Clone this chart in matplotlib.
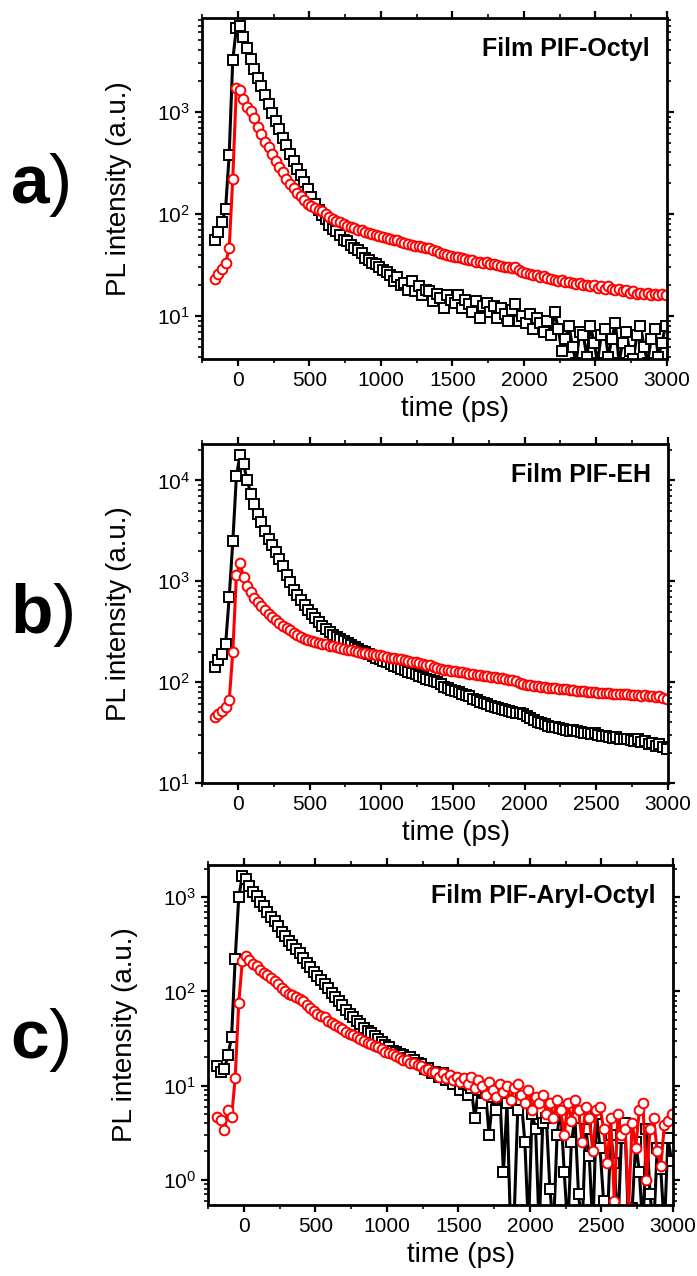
import numpy as np
import matplotlib
matplotlib.use("Agg")
import matplotlib.pyplot as plt
from matplotlib.ticker import MultipleLocator

plt.rcParams['font.family'] = ['Liberation Sans', 'DejaVu Sans']
plt.rcParams['mathtext.fontset'] = 'custom'
plt.rcParams['mathtext.rm'] = 'Liberation Sans'
plt.rcParams['mathtext.bf'] = 'Liberation Sans:bold'
plt.rcParams['mathtext.default'] = 'regular'

# time grids (ps)
t_ab = np.arange(-160, 3000, 25)
t_c = np.arange(-185, 3000, 25)

# a) Film PIF-Octyl
a_black = [55, 66, 83, 112, 380, 3200, 6600, 6900, 5400, 4200,
           3300, 2600, 2150, 1800, 1450, 1200, 980, 810, 680, 560,
           470, 390, 330, 275, 240, 205, 175, 145, 125, 110,
           98, 89, 78, 71, 68, 62, 56, 54, 50, 46,
           44, 41, 37, 35, 33, 32, 30, 28, 27, 25,
           22, 24, 20, 21, 18, 22, 17.5, 19.5, 16, 18,
           17.5, 14, 16.5, 15, 12, 16, 14.5, 13.5, 16, 12,
           14.5, 13, 11, 14, 9.5, 12.5, 13.5, 11, 12.5, 9.5,
           12, 10.5, 9, 11.5, 13, 9, 10, 8.5, 10.5, 7.5,
           9.5, 8.5, 7, 9, 6.5, 11, 7.5, 4.5, 6, 8,
           5, 3.5, 7, 6.5, 4, 8, 5.5, 3.5, 6.5, 7.5,
           4, 6, 8.5, 3.5, 5.5, 7, 4.5, 3.8, 6.5, 8,
           5, 3.5, 6, 7.5, 4, 5.5, 8]
a_red = [23, 26, 29, 33, 46, 220, 1700, 1650, 1350, 1120,
         1020, 870, 710, 600, 510, 450, 385, 330, 290, 260,
         218, 198, 178, 162, 150, 138, 126, 120, 115, 110,
         106, 100, 94, 90, 86, 83, 79, 77, 74, 72,
         70, 69, 67, 65, 63, 62, 61, 60, 58, 57,
         56, 55, 53, 52, 51, 50, 49, 48, 47, 46,
         46, 44, 43, 41, 40.5, 40, 39, 38, 37.5, 37,
         36, 35.5, 35, 34, 34, 33, 33.5, 32, 32.5, 31.5,
         31, 30, 30.5, 29.5, 30, 28, 27, 26.5, 26, 25.5,
         25, 24, 24.5, 23.5, 23, 22.5, 22, 22.5, 21.5, 21.5,
         21, 20.5, 21, 20, 20, 19.5, 20, 19, 19.5, 18.5,
         19.5, 18.5, 18, 18.5, 17.5, 18, 17, 17.5, 16.5, 17,
         16.5, 17, 16, 16.5, 16, 16.5, 16]

# b) Film PIF-EH
b_black = [140, 165, 190, 240, 700, 2500, 11000, 17800, 14500, 10000,
           7400, 5900, 4600, 3850, 3150, 2650, 2280, 1950, 1650, 1420,
           1150, 980, 810, 730, 650, 580, 520, 470, 430, 395,
           360, 335, 312, 295, 280, 270, 258, 245, 232, 222,
           212, 203, 197, 190, 182, 175, 168, 163, 157, 152,
           146, 140, 136, 132, 127, 122, 119, 115, 112, 108,
           105, 102, 100, 95, 90, 88, 84, 82, 79, 77,
           75, 72, 68, 66, 64, 62, 60, 58, 56.5, 55,
           54, 53, 51.5, 50.5, 49.5, 49, 48, 46, 44, 42,
           40, 39, 38, 37, 36, 35.5, 35, 34, 33.5, 33,
           33.5, 32.5, 32, 31.5, 31, 30.5, 31, 30, 29, 29.5,
           28.5, 28, 28.5, 27.5, 27, 27.5, 26.5, 26, 27, 25.5,
           26, 24.5, 25, 23.5, 24.5, 22.5, 21.5]
b_red = [45, 48, 52, 57, 66, 200, 1150, 1500, 1100, 900,
         780, 690, 620, 565, 520, 478, 440, 410, 385, 360,
         342, 325, 308, 295, 280, 270, 262, 255, 248, 243,
         240, 236, 230, 226, 223, 218, 213, 210, 206, 202,
         199, 195, 193, 190, 188, 186, 184, 180, 178, 175,
         173, 170, 168, 165, 162, 160, 157, 153, 150, 149,
         147, 142, 138, 135, 133, 131, 129, 128, 126, 125,
         122, 121, 119, 118, 117, 116, 114, 113, 112, 110,
         109, 107, 106, 105, 102, 98, 95, 94, 93, 92,
         91, 90, 89, 88, 87, 86.5, 86, 85, 84.5, 84,
         83, 82.5, 82, 81, 80.5, 80, 79, 78.5, 78, 77.5,
         78, 77, 76, 77, 75.5, 76, 75, 74, 75, 73.5,
         74, 72.5, 73, 71, 72, 69, 68]

# c) Film PIF-Aryl-Octyl
c_black = [16, 14, 15, 21, 33, 220, 1000, 1700, 1550, 1330,
           1150, 1020, 900, 800, 700, 620, 560, 495, 430, 385,
           345, 313, 282, 254, 226, 201, 182, 162, 147, 133,
           120, 108, 97, 88, 80, 72, 64, 58, 53, 49,
           45, 41, 38, 36, 34, 31, 29, 27, 25.5, 23.5,
           23, 21.5, 21, 19.5, 20, 18.5, 17.5, 17, 15, 15.5,
           13.5, 14, 12.5, 13.5, 11.5, 12, 10.5, 11.5, 9, 10.5,
           8, 9.5, 4.5, 9, 6.5, 8.5, 3, 7.5, 5.5, 8,
           1.2, 6.5, 0.3, 0.4, 5.5, 7, 2.5, 0.3, 5, 3.5,
           0.3, 4, 4.5, 0.8, 0.3, 3, 6, 1.2, 0.3, 2.5,
           4.5, 0.7, 0.3, 3.5, 1.8, 0.3, 5, 2.2, 0.6, 0.3,
           3, 1.5, 0.3, 2.8, 4, 0.3, 0.5, 2.5, 1.2, 0.3,
           3.5, 0.7, 0.3, 2.2, 1.3, 0.3, 2.8, 1.6]
c_red = [4.6, 4.3, 3.4, 5.5, 4.6, 12, 75, 210, 235, 215,
         198, 185, 170, 158, 148, 140, 130, 119, 108, 100,
         95, 92, 88, 84, 79, 72, 66, 62, 58, 55,
         53, 49, 46, 44.5, 42, 40, 37.5, 35.5, 34.5, 33,
         31, 30, 28.5, 27.5, 26.5, 25.5, 24.5, 23, 22, 21.5,
         20.5, 19.5, 18.5, 18.5, 17.5, 17.5, 16.5, 16, 14.5, 15,
         13.8, 14, 12.5, 13.5, 12, 13, 11.5, 12.5, 11, 12,
         10.5, 12.5, 9.5, 11.5, 10, 8, 11, 9, 7.5, 10.5,
         8.5, 10, 7, 9.5, 10.5, 8, 6.5, 9, 5.5, 7.5,
         6.5, 8, 5, 6.5, 4.5, 7, 5.5, 3, 6.5, 4.2,
         7, 5.5, 2.5, 6, 4.5, 2, 5.5, 6, 3.5, 1.5,
         4.5, 0.6, 5, 3, 3.5, 0.5, 4, 2.2, 5.5, 6.5,
         1, 3.5, 4.5, 2, 1.4, 3.8, 4.2, 5]

titles = ["Film PIF-Octyl", "Film PIF-EH", "Film PIF-Aryl-Octyl"]
letters = ["a", "b", "c"]

panels = [
    (t_ab, a_black, a_red, (3.8, 8300), [0.2898, 0.7187, 0.6671, 0.2672], 0.855),
    (t_ab, b_black, b_red, (10, 23000), [0.2898, 0.3864, 0.6686, 0.2657], 0.518),
    (t_c, c_black, c_red, (0.54, 2200), [0.2984, 0.0556, 0.6671, 0.2665], 0.185),
]

fig = plt.figure(figsize=(6.97, 12.76), dpi=100)

for i, (t, yb, yr, ylim, pos, ly) in enumerate(panels):
    ax = fig.add_axes(pos)
    ax.plot(t, yb, '-s', color='black', lw=2.2, ms=6.5, mfc='white',
            mec='black', mew=1.4)
    ax.plot(t, yr, '-o', color='#ff0000', lw=2.2, ms=7, mfc='white',
            mec='#ff0000', mew=1.4)
    ax.set_yscale('log')
    ax.set_xlim(-250, 3000)
    ax.set_ylim(*ylim)
    ax.xaxis.set_major_locator(MultipleLocator(500))
    ax.xaxis.set_minor_locator(MultipleLocator(250))
    ax.tick_params(which='both', direction='out', top=True, right=True,
                   labelsize=15)
    ax.tick_params(which='major', length=5, width=1.6)
    ax.tick_params(which='minor', length=3, width=1.2)
    for s in ax.spines.values():
        s.set_linewidth(2)
    ax.set_xlabel("time (ps)", fontsize=20)
    ax.xaxis.set_label_coords(0.545, -0.11)
    ax.set_ylabel("PL intensity (a.u.)", fontsize=20)
    ax.yaxis.set_label_coords(-0.15, 0.5)
    ax.text(0.963, 0.943, titles[i], transform=ax.transAxes, ha='right',
            va='top', fontsize=18, fontweight='bold')
    fig.text(0.015, ly, r"$\mathbf{%s}$)" % letters[i], fontsize=50,
             va='center')

fig.savefig("out.png", dpi=100)
